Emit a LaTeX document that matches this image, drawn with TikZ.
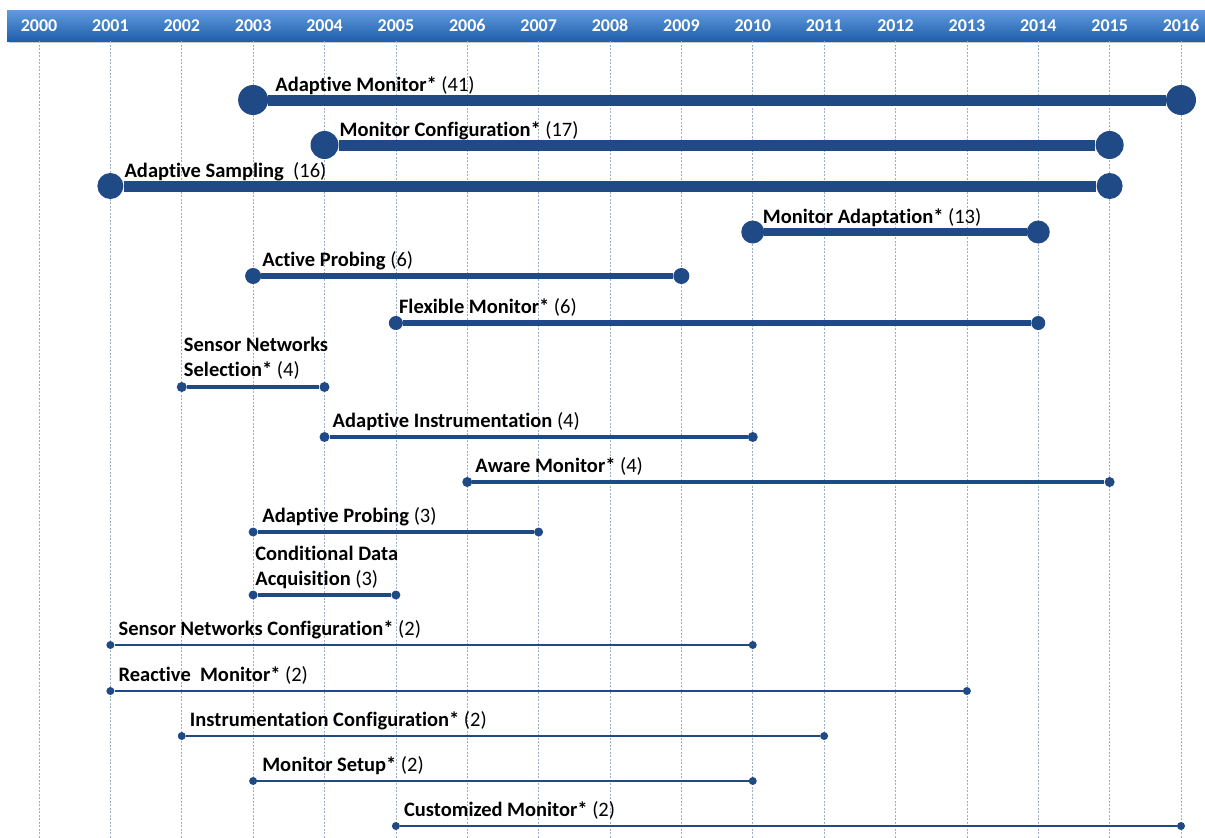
\documentclass[tikz,border=0pt]{standalone}
\usepackage{fontspec}
\setmainfont[Ligatures={NoCommon,NoContextual}]{Carlito}
\usetikzlibrary{positioning,calc}
\definecolor{barblue}{RGB}{31,74,133}
\definecolor{headtop}{RGB}{96,156,222}
\definecolor{headbot}{RGB}{33,94,172}
\definecolor{gridgray}{RGB}{160,174,196}

\begin{document}
\begin{tikzpicture}[
    x=1pt, y=-1pt,
    dot/.style={circle, fill=barblue, inner sep=0pt, minimum size=#1},
    bar/.style={draw=barblue, line width=#1},
    gridline/.style={draw=gridgray, line width=0.6pt, dash pattern=on 2pt off 1.5pt},
    yearlbl/.style={text=white, anchor=base, font=\fontsize{18}{21}\selectfont\bfseries},
    lbl/.style={anchor=south west, inner sep=0pt, align=left, font=\fontsize{20.5}{25}\selectfont}
]
    \useasboundingbox (0,0) rectangle (1205,838);

    % year header
    \fill[black!20] (9,13) rectangle (1205,43);
    \shade[top color=headtop, bottom color=headbot] (7,10) rectangle (1205,41);
    \foreach \yr in {2000,...,2016} {
        \pgfmathsetmacro{\gx}{39+71.375*(\yr-2000)}
        \draw[gridline] (\gx,41) -- (\gx,838);
        \node[yearlbl] (y\yr) at (\gx,31) {\yr};
    }

    % topics: name/from/to/row/dot/line/label dx/label dy/text
    \foreach \nm/\sy/\ey/\ry/\ds/\lw/\dx/\dy/\txt in {
        am/2003/2016/100/30/11/22/5/{\textbf{Adaptive Monitor*} (41)},
        mc/2004/2015/145/28/11/15/5/{\textbf{Monitor Configuration*} (17)},
        as/2001/2015/186/26/11/14/5/{\textbf{Adaptive Sampling}~ (16)},
        ma/2010/2014/232/23/8/10/5/{\textbf{Monitor Adaptation*} (13)},
        ap/2003/2009/276/16/6/9/6/{\textbf{Active Probing} (6)},
        fm/2005/2014/323/14/5.5/3/6/{\textbf{Flexible Monitor*} (6)},
        sns/2002/2004/387/10/4/2/7/{\textbf{Sensor Networks}\\\textbf{Selection*} (4)},
        ai/2004/2010/437/10/4/8/6/{\textbf{Adaptive Instrumentation} (4)},
        awm/2006/2015/482/10/4/8/6/{\textbf{Aware Monitor*} (4)},
        apr/2003/2007/532/9/3.5/9/6/{\textbf{Adaptive Probing} (3)},
        cda/2003/2005/595/9/3.5/2/6/{\textbf{Conditional Data}\\\textbf{Acquisition} (3)},
        snc/2001/2010/645/8/1.3/8/6/{\textbf{Sensor Networks Configuration*} (2)},
        rm/2001/2013/691/8/1.3/8/6/{\textbf{Reactive~ Monitor*} (2)},
        ic/2002/2011/736/8/1.3/8/6/{\textbf{Instrumentation Configuration*} (2)},
        ms/2003/2010/781/8/1.3/9/6/{\textbf{Monitor Setup*} (2)},
        cm/2005/2016/826/8/1.3/8/6/{\textbf{Customized Monitor*} (2)}
    } {
        \node[dot=\ds] (\nm-s) at ({39+71.375*(\sy-2000)},\ry) {};
        \node[dot=\ds] (\nm-e) at ({39+71.375*(\ey-2000)},\ry) {};
        \draw[bar=\lw] (\nm-s) -- (\nm-e);
        \node[lbl] (\nm) at ($(\nm-s)+(\dx,-\dy)$) {\txt};
    }
\end{tikzpicture}
\end{document}
